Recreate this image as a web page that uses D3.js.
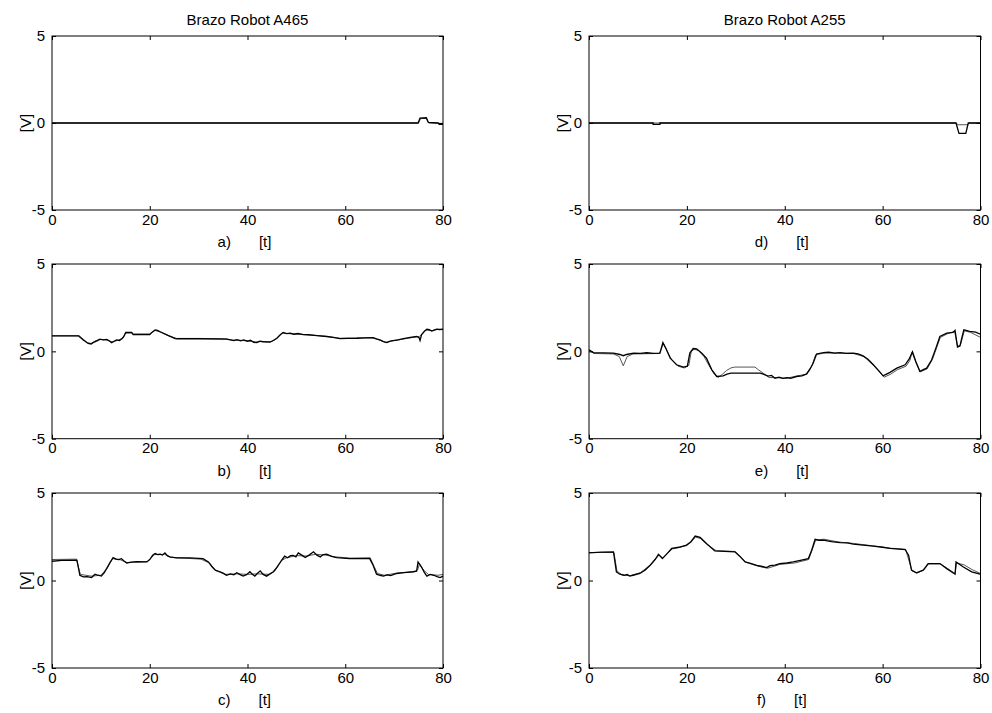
<!DOCTYPE html>
<html>
<head>
<meta charset="utf-8">
<script src="https://cdn.jsdelivr.net/npm/d3@7"></script>
<style>
  html, body { margin: 0; padding: 0; background: #fff; }
  svg { display: block; }
  text { font-family: "Liberation Sans", Arial, Helvetica, sans-serif; font-size: 15px; fill: #000; }
</style>
</head>
<body>
<svg id="chart" width="992" height="713"></svg>
<script>
// Time axis and voltage axis ticks shared by all six panels
const xTicks = [0, 20, 40, 60, 80];
const yTicks = [-5, 0, 5];
const columnTitles = ["Brazo Robot A465", "Brazo Robot A255"];
const panelLetters = ["a)", "b)", "c)", "d)", "e)", "f)"];

// Each signal: [time, voltage] samples; two traces per panel
const a1 = [[0,0],[74.9,0],[75.3,0.28],[76.6,0.3],[77.0,0.03],[79,0],[79.2,-0.08],[80,-0.08]];
const a2 = [[0,0],[75.0,0],[75.4,0.25],[76.5,0.27],[77.1,0],[80,-0.02]];

const b1 = [[0,0.89],[5.4,0.89],[6.4,0.65],[7.4,0.45],[8.0,0.42],[8.4,0.5],[9.2,0.6],[9.8,0.7],[10.5,0.66],[11.2,0.68],[11.8,0.58],[12.2,0.5],[12.7,0.58],[13.2,0.66],[13.8,0.62],[14.3,0.72],[14.7,0.85],[15.1,1.08],[16.3,1.08],[16.6,0.96],[20.0,0.96],[20.5,1.1],[21.1,1.23],[21.6,1.2],[22.1,1.12],[23.5,0.94],[25.2,0.73],[25.5,0.72],[30,0.72],[35.7,0.7],[36.5,0.66],[37.2,0.62],[37.8,0.67],[38.6,0.6],[39.2,0.66],[40.0,0.58],[40.6,0.64],[41.3,0.52],[41.9,0.5],[42.5,0.58],[43.2,0.55],[44.6,0.53],[45.3,0.62],[46.0,0.75],[46.7,0.95],[47.3,1.08],[48.0,1.02],[48.7,1.04],[49.5,0.98],[50.3,1.02],[51.4,0.96],[52.5,0.95],[54.2,0.9],[56.2,0.85],[57.5,0.8],[58.9,0.73],[60.5,0.74],[62.4,0.75],[64,0.77],[65.7,0.79],[66.4,0.72],[67.1,0.66],[67.8,0.56],[68.5,0.5],[69.2,0.58],[69.8,0.62],[70.8,0.66],[71.9,0.73],[73.3,0.8],[74.6,0.85],[75.1,0.78],[75.3,0.62],[75.6,0.95],[76.2,1.15],[76.7,1.27],[77.2,1.24],[77.7,1.16],[78.2,1.22],[78.7,1.27],[79.3,1.25],[80,1.27]];
const b2 = [[0,0.89],[5.6,0.89],[7.2,0.5],[8.0,0.45],[9.0,0.62],[10,0.68],[11.5,0.64],[12.3,0.53],[13.5,0.64],[14.5,0.75],[15.0,1.05],[16.4,1.06],[16.7,1.0],[20.0,1.0],[21.0,1.2],[22.3,1.1],[23.8,0.9],[25.5,0.74],[30,0.74],[35.5,0.72],[37,0.64],[38.2,0.64],[39.8,0.6],[41.5,0.54],[42.8,0.56],[44.8,0.55],[46,0.74],[47.1,1.04],[49,1.0],[51.2,0.97],[54,0.91],[56,0.86],[59,0.75],[62,0.76],[65.5,0.78],[66.8,0.66],[68.3,0.52],[69.6,0.6],[71.8,0.7],[74.4,0.82],[75.2,0.86],[76.5,1.22],[77.6,1.18],[78.8,1.25],[80,1.24]];

const c1 = [[0,1.1],[2,1.15],[5.1,1.16],[5.7,0.3],[6.4,0.21],[7.2,0.22],[8.1,0.17],[8.8,0.36],[9.4,0.3],[10.1,0.25],[10.7,0.45],[11.2,0.69],[11.8,1.0],[12.5,1.31],[13.1,1.22],[13.6,1.2],[14.2,1.25],[14.8,1.1],[15.3,1.0],[16.2,1.05],[17.3,1.08],[19.4,1.06],[20.0,1.2],[20.6,1.45],[21.1,1.54],[21.6,1.48],[22.1,1.5],[22.6,1.45],[23.1,1.58],[23.6,1.42],[24.1,1.35],[25.5,1.29],[28.2,1.29],[30.9,1.25],[32.0,1.06],[32.7,0.8],[33.4,0.59],[34.4,0.5],[35.0,0.42],[35.7,0.3],[36.5,0.38],[37.2,0.32],[37.8,0.44],[38.4,0.35],[39.1,0.25],[39.8,0.33],[40.5,0.5],[41.0,0.35],[41.5,0.25],[42.0,0.4],[42.6,0.55],[43.2,0.35],[43.9,0.25],[44.6,0.38],[45.3,0.5],[46.0,0.75],[46.6,1.0],[47.1,1.2],[47.6,1.39],[48.2,1.3],[48.8,1.42],[49.3,1.44],[49.9,1.35],[50.4,1.58],[51.1,1.45],[51.8,1.31],[52.6,1.45],[53.5,1.64],[54.2,1.45],[54.9,1.35],[55.5,1.48],[56.2,1.5],[57.2,1.38],[58.2,1.31],[60.9,1.25],[65.0,1.25],[65.7,0.87],[66.4,0.36],[67.1,0.3],[67.8,0.25],[68.6,0.32],[69.3,0.28],[70.5,0.4],[72,0.45],[73.9,0.5],[74.6,0.53],[74.9,1.06],[75.6,0.77],[76.2,0.45],[76.7,0.25],[77.4,0.35],[78.1,0.3],[78.8,0.22],[79.4,0.17],[80,0.25]];
const c2 = [[0,1.2],[5.0,1.22],[5.8,0.35],[8,0.25],[10,0.3],[11.3,0.7],[12.4,1.25],[14,1.18],[15.4,1.02],[19.5,1.08],[21,1.48],[23,1.5],[24.3,1.32],[30.5,1.22],[32.2,1.0],[33.6,0.55],[35.5,0.35],[38,0.38],[40,0.35],[42,0.38],[44.5,0.35],[45.6,0.55],[47,1.15],[48,1.3],[50,1.42],[52,1.4],[54,1.5],[56,1.45],[58,1.35],[61,1.28],[65.1,1.3],[65.9,0.8],[66.6,0.4],[68,0.3],[70.5,0.42],[74,0.5],[74.8,0.6],[75.2,0.95],[76,0.6],[77,0.35],[79,0.3],[80,0.35]];

const d1 = [[0,0],[13.1,0],[13.1,-0.08],[14.5,-0.08],[14.5,0],[75,0],[75.6,-0.6],[77.0,-0.6],[77.5,0],[80,0]];
const d2 = [[0,0],[75,0],[75.4,-0.1],[77.4,-0.1],[77.6,0],[80,0]];

const e1 = [[0,0.09],[0.9,-0.07],[5,-0.1],[6.3,-0.18],[7.0,-0.25],[7.7,-0.18],[9.1,-0.1],[10.5,-0.12],[11.8,-0.08],[13.2,-0.12],[14.5,-0.1],[15.1,0.5],[15.7,0.18],[16.6,-0.39],[17.9,-0.77],[19.3,-0.9],[20.1,-0.85],[20.6,-0.1],[21.3,0.16],[22.0,0.14],[23.0,-0.1],[24.0,-0.39],[25.1,-1.06],[26.1,-1.44],[27.4,-1.4],[28.2,-1.3],[29,-1.25],[35.0,-1.25],[35.6,-1.3],[36.6,-1.42],[37.3,-1.38],[38.0,-1.54],[38.8,-1.48],[39.6,-1.55],[40.4,-1.5],[41.2,-1.54],[42.4,-1.44],[43.5,-1.4],[44.5,-1.29],[45.1,-1.05],[45.8,-0.68],[46.5,-0.15],[47.9,-0.07],[49,-0.05],[50.2,-0.1],[51.3,-0.07],[52.5,-0.12],[54.0,-0.1],[55,-0.15],[56.0,-0.26],[57,-0.45],[58.1,-0.77],[59.2,-1.1],[60.1,-1.4],[60.8,-1.3],[61.5,-1.2],[62.9,-0.96],[64.6,-0.77],[65.4,-0.45],[66.1,-0.02],[66.8,-0.6],[67.6,-1.14],[68.3,-1.05],[69.0,-0.96],[70.0,-0.5],[70.9,0.2],[71.7,0.85],[73.1,1.04],[74.4,1.08],[74.8,1.2],[75.3,0.24],[75.8,0.3],[76.2,0.8],[76.6,1.23],[77.8,1.14],[79,1.1],[80,0.98]];
const e2 = [[0,0.05],[1,-0.12],[5,-0.15],[6.2,-0.3],[7.0,-0.83],[7.8,-0.3],[9,-0.15],[14.4,-0.12],[15.2,0.45],[16.8,-0.45],[18.2,-0.85],[19.5,-0.95],[20.4,-0.8],[20.9,0.0],[21.5,0.12],[22.4,0.05],[23.5,-0.3],[24.5,-0.8],[25.6,-1.3],[26.4,-1.5],[27.3,-1.3],[28.1,-1.1],[29.0,-0.95],[29.8,-0.9],[33.9,-0.9],[34.6,-1.05],[35.6,-1.25],[36.8,-1.5],[38.2,-1.5],[40.2,-1.55],[42.6,-1.4],[44.3,-1.32],[45.6,-0.8],[46.3,-0.2],[48,-0.1],[51,-0.1],[54,-0.12],[56.2,-0.3],[58.3,-0.85],[60.3,-1.48],[61.7,-1.3],[63,-1.05],[64.8,-0.85],[65.6,-0.5],[66.0,-0.05],[66.9,-0.7],[67.7,-1.18],[69.1,-1.0],[70.2,-0.45],[71.8,0.8],[73.2,1.0],[74.7,1.15],[75.3,0.3],[75.9,0.35],[76.7,1.18],[78,1.08],[80,0.8]];

const f1 = [[0,1.58],[2.5,1.62],[5.0,1.64],[5.6,0.49],[6.3,0.36],[7.2,0.3],[7.8,0.35],[8.3,0.25],[9.0,0.3],[10.4,0.4],[11.5,0.6],[12.5,0.87],[13.5,1.2],[14.2,1.5],[15.0,1.25],[16.0,1.55],[16.9,1.83],[18.4,1.9],[19.9,2.02],[20.8,2.2],[21.7,2.54],[22.7,2.46],[24.0,2.11],[25.7,1.69],[29.8,1.64],[30.8,1.39],[31.9,1.06],[33.0,0.98],[34.3,0.87],[35.4,0.8],[36.3,0.74],[37.0,0.85],[38.0,0.88],[39.0,0.97],[40.4,1.0],[41.7,1.06],[43.2,1.15],[44.8,1.25],[45.5,1.73],[46.2,2.35],[47.0,2.3],[47.9,2.31],[49.5,2.22],[51.3,2.16],[52.8,2.15],[54.0,2.08],[56,2.02],[58.1,1.96],[60,1.9],[61.5,1.83],[64.6,1.77],[65.3,1.45],[65.9,0.59],[66.9,0.44],[68.3,0.59],[69.3,0.97],[71.7,0.97],[73.1,0.68],[74.8,0.36],[75.0,1.06],[76.5,0.77],[78.2,0.49],[79.9,0.36]];
const f2 = [[0,1.6],[5.1,1.6],[5.7,0.55],[6.8,0.3],[8.5,0.28],[10.5,0.45],[12.6,0.9],[14.3,1.45],[15.1,1.3],[17,1.8],[20,2.0],[21.8,2.48],[22.8,2.4],[24.2,2.05],[26,1.7],[29.9,1.66],[32,1.05],[34.5,0.82],[36.5,0.7],[39,0.92],[42,1.0],[44.9,1.2],[46.3,2.3],[48,2.36],[51,2.2],[54,2.12],[58,1.98],[61.5,1.85],[64.7,1.78],[66,0.55],[67,0.42],[68.4,0.6],[69.4,0.95],[71.8,0.95],[73.2,0.7],[74.8,0.4],[75.1,1.0],[76.6,0.9],[78.3,0.62],[80,0.4]];

// Panel grid (left column A465, right column A255)
const columns = [{ x0: 52, x1: 443 }, { x0: 589, x1: 980.5 }];
const rows = [{ y0: 36, y1: 210 }, { y0: 264, y1: 438.7 }, { y0: 493, y1: 668 }];
const panelSeries = [[a1, a2], [b1, b2], [c1, c2], [d1, d2], [e1, e2], [f1, f2]];

const svg = d3.select("#chart");
const tickLen = 4;
const plainNumber = d => String(d);   // hyphen-minus, as in the plots

panelSeries.forEach((traces, i) => {
  const col = columns[Math.floor(i / 3)];
  const row = rows[i % 3];
  const x = d3.scaleLinear().domain([0, 80]).range([col.x0, col.x1]);
  const y = d3.scaleLinear().domain([-5, 5]).range([row.y1, row.y0]);
  const g = svg.append("g");

  // traces: thin grey estimate under the black measurement
  const line = d3.line().x(d => x(d[0])).y(d => y(d[1]));
  g.append("path").datum(traces[1]).attr("d", line)
    .attr("fill", "none").attr("stroke", "#555").attr("stroke-width", 1);
  g.append("path").datum(traces[0]).attr("d", line)
    .attr("fill", "none").attr("stroke", "#000").attr("stroke-width", 1.3);

  // axes with inward ticks on all four sides
  g.append("g").attr("transform", `translate(0,${row.y1})`)
    .call(d3.axisBottom(x).tickValues(xTicks).tickFormat(plainNumber)
      .tickSizeInner(-tickLen).tickSizeOuter(0).tickPadding(4));
  g.append("g").attr("transform", `translate(0,${row.y0})`)
    .call(d3.axisTop(x).tickValues(xTicks).tickSizeInner(-tickLen).tickSizeOuter(0).tickFormat(""));
  g.append("g").attr("transform", `translate(${col.x0},0)`)
    .call(d3.axisLeft(y).tickValues(yTicks).tickFormat(plainNumber)
      .tickSizeInner(-tickLen).tickSizeOuter(0).tickPadding(7));
  g.append("g").attr("transform", `translate(${col.x1},0)`)
    .call(d3.axisRight(y).tickValues(yTicks).tickSizeInner(-tickLen).tickSizeOuter(0).tickFormat(""));

  g.selectAll(".domain").remove();
  g.selectAll(".tick line").attr("stroke", "#000");
  g.selectAll(".tick text").attr("font-size", null).attr("font-family", null).attr("fill", "#000");

  // frame
  g.append("rect").attr("x", col.x0).attr("y", row.y0)
    .attr("width", col.x1 - col.x0).attr("height", row.y1 - row.y0)
    .attr("fill", "none").attr("stroke", "#000").attr("stroke-width", 1);

  // y label
  const cy = (row.y0 + row.y1) / 2;
  g.append("text").attr("transform", `translate(${col.x0 - 21},${cy}) rotate(-90)`)
    .attr("text-anchor", "middle").text("[V]");

  // x label
  const cx = (col.x0 + col.x1) / 2;
  const xl = g.append("text").attr("x", cx - 3).attr("y", row.y1 + 37).attr("text-anchor", "middle");
  xl.append("tspan").text(panelLetters[i]);
  xl.append("tspan").attr("dx", 28).text("[t]");

  if (i % 3 === 0) {
    g.append("text").attr("x", cx).attr("y", row.y0 - 11)
      .attr("text-anchor", "middle").text(columnTitles[Math.floor(i / 3)]);
  }
});
</script>
</body>
</html>
